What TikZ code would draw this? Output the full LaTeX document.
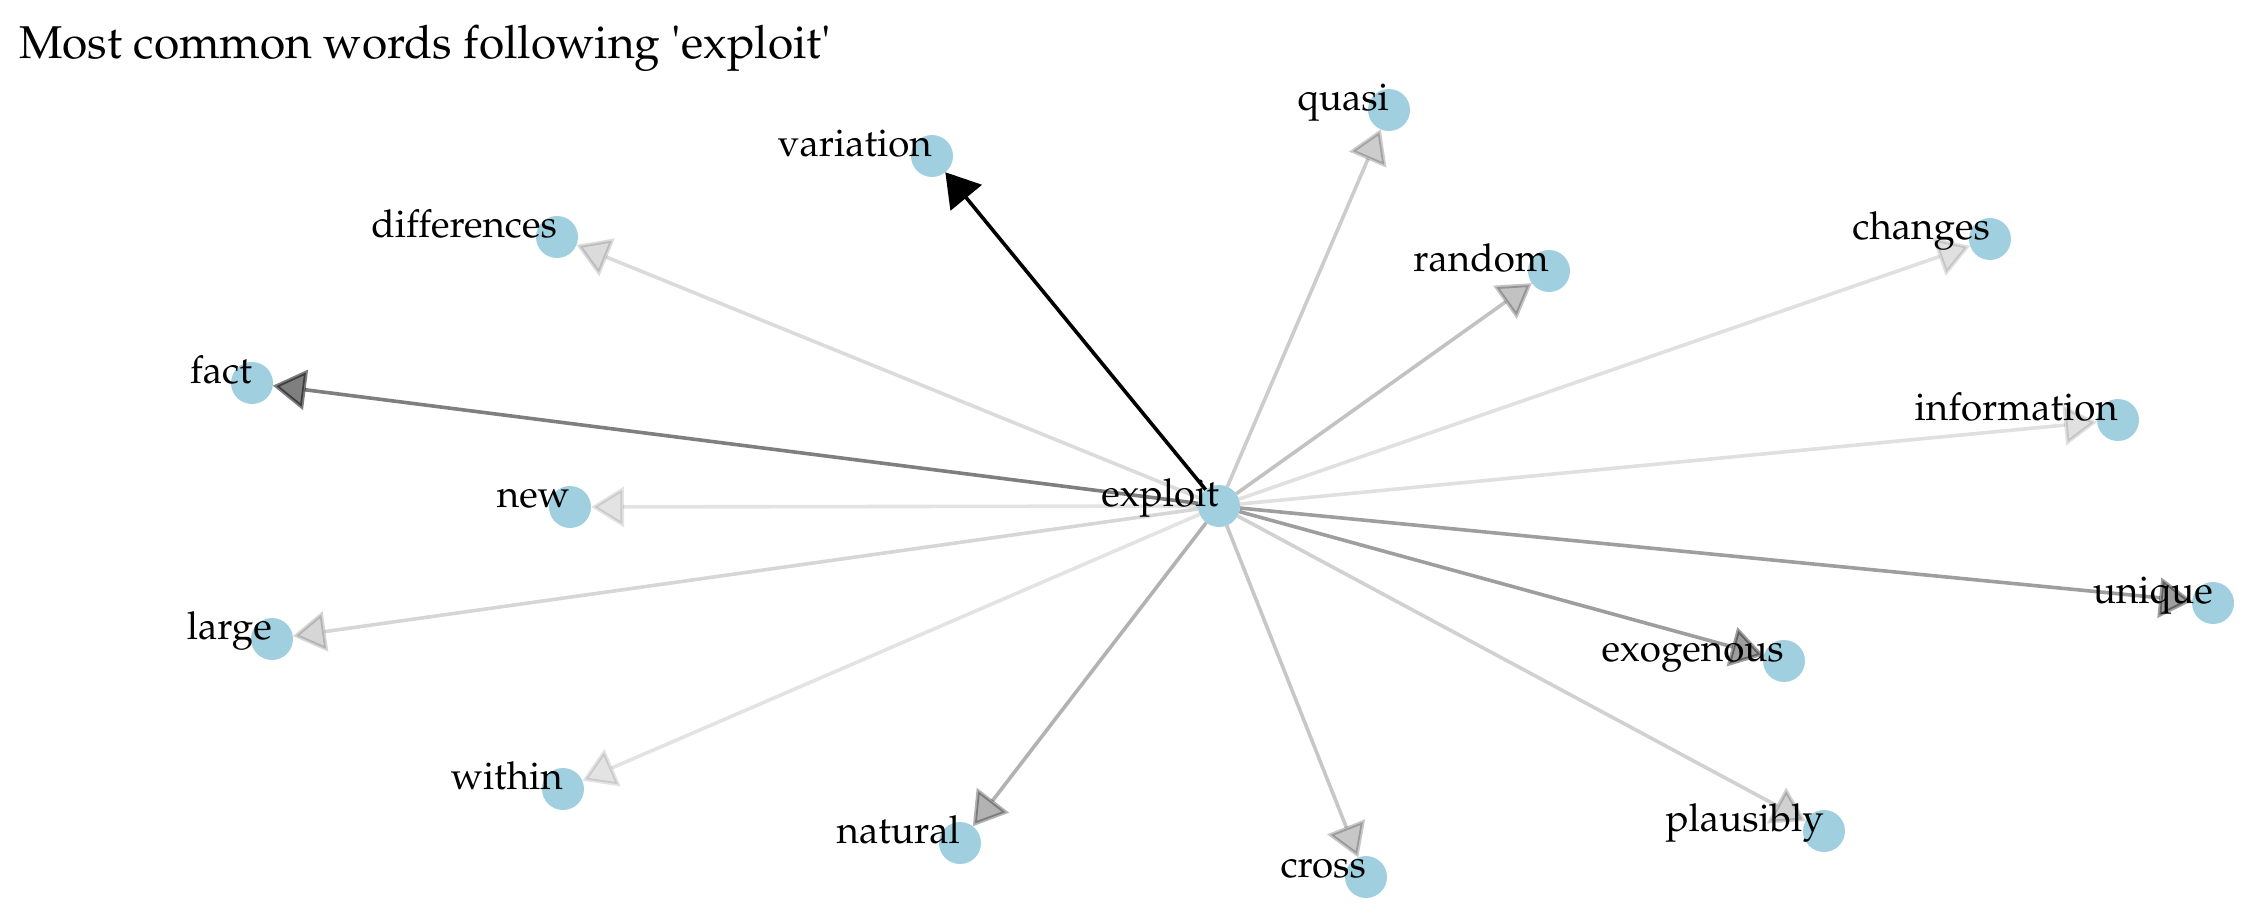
\documentclass[tikz,border=0pt]{standalone}
\usepackage[T1]{fontenc}
\usepackage{textcomp}
\usepackage{mathpazo}
\usetikzlibrary{arrows.meta,backgrounds,calc}
\definecolor{nodeblue}{RGB}{160,207,224}
\tikzset{
  word/.style={circle, fill=nodeblue, minimum size=42pt, inner sep=0pt, outer sep=0pt},
  wordlabel/.style={anchor=base east, inner sep=0pt, font=\fontsize{38.5}{46}\selectfont},
  link/.style={line width=3.6pt, draw=black, -{Triangle[length=33pt,width=40pt]}},
  titletext/.style={anchor=base west, inner sep=0pt, font=\fontsize{46}{55}\selectfont},
}
\begin{document}
\begin{tikzpicture}[x=1pt,y=-1pt]
\useasboundingbox (0,0) rectangle (2267,918);
\node[titletext] (title) at (19,58) {Most common words following \textquotesingle exploit\textquotesingle};
% word points
\foreach \n/\x/\y in {exploit/1219/506, variation/932/156, quasi/1389/110,
  differences/557/237, random/1549/271, changes/1990/239, fact/252/383,
  information/2118/420, new/570/507, unique/2213/603, large/272/639,
  exogenous/1784/661, within/563/789, natural/960/843, cross/1366/877,
  plausibly/1824/831}
  \node[word] (\n) at (\x,\y) {};
% connectors
\begin{scope}[on background layer]
\foreach \t/\a in {variation/1, fact/0.5, unique/0.38, exogenous/0.38,
  natural/0.3, random/0.24, cross/0.22, quasi/0.2, plausibly/0.18,
  large/0.16, differences/0.14, changes/0.12, information/0.12,
  new/0.11, within/0.11}
  \draw[link, opacity=\a] (exploit) -- (\t);
\end{scope}
% labels
\foreach \n in {exploit, variation, quasi, differences, random, changes, fact,
  information, new, unique, large, exogenous, within, natural, cross, plausibly}
  \node[wordlabel] (lbl-\n) at (\n.center) {\n};
\end{tikzpicture}
\end{document}
